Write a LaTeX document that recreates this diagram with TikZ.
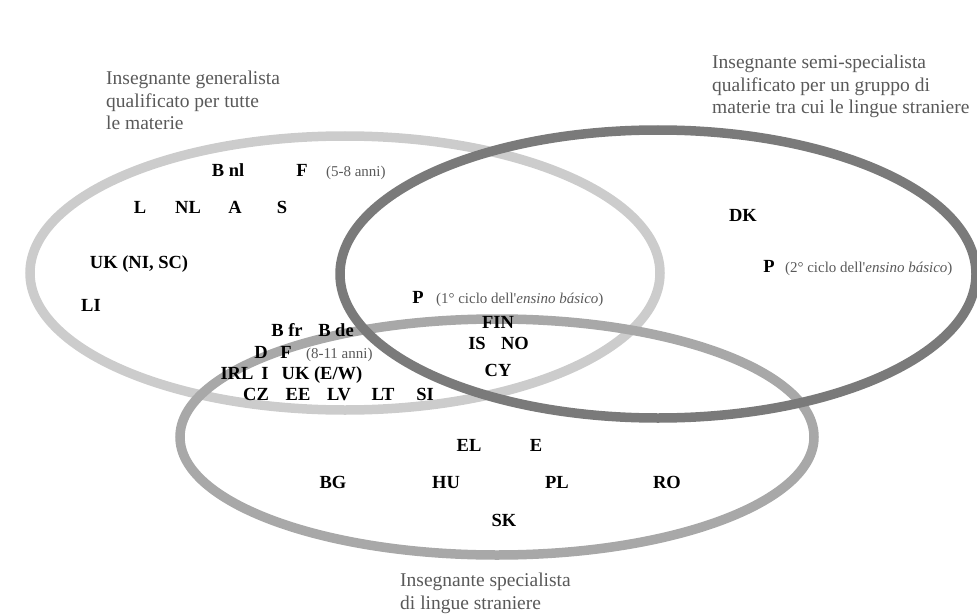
\documentclass[tikz,border=0pt]{standalone}
\usepackage{fontspec}
\setmainfont{Liberation Serif}
\usepackage{tikz}
\usetikzlibrary{shapes.geometric, positioning}
\definecolor{lightring}{gray}{0.80}
\definecolor{midring}{gray}{0.66}
\definecolor{darkring}{gray}{0.48}
\definecolor{labelgray}{gray}{0.35}
\tikzset{ring/.style={ellipse, draw, line width=9.5pt, inner sep=0pt}}
\tikzset{code/.style={font=\fontsize{18.5}{20}\selectfont\bfseries, inner sep=0pt, text height=12.5pt, text depth=0.5pt}}
\tikzset{note/.style={font=\fontsize{15}{17}\selectfont, text=labelgray, inner sep=0pt, anchor=base west}}
\tikzset{title/.style={font=\fontsize{19.5}{22.5}\selectfont, text=labelgray, align=left, inner sep=0pt, anchor=north west}}

\begin{document}
\begin{tikzpicture}[x=1pt, y=-1pt]
		\useasboundingbox (0,0) rectangle (977,615);
		\node[ring, draw=lightring, minimum width=630pt, minimum height=274pt] (gen) at (345,273) {};
		\node[ring, draw=midring, minimum width=634pt, minimum height=236pt] (spec) at (497,437) {};
		\node[ring, draw=darkring, minimum width=636pt, minimum height=288pt] (semi) at (658,274) {};

		\node[title] (tgen) at (106,71) {Insegnante generalista\\qualificato per tutte\\le materie};
		\node[title] (tsemi) at (712,55) {Insegnante semi-specialista\\qualificato per un gruppo di\\materie tra cui le lingue straniere};
		\node[title] (tspec) at (400,573) {Insegnante specialista\\di lingue straniere};

		\begin{scope}[every node/.append style={code}]
			\node (Bnl) at (228,170) {B nl};
			\node (F1) at (302,170) {F};
			\node (L) at (140,207) {L};
			\node (NL) at (188,207) {NL};
			\node (A) at (235,207) {A};
			\node (S) at (282,207) {S};
			\node (UKni) at (139,262) {UK (NI, SC)};
			\node (LI) at (91,305) {LI};
			\node (DK) at (743,215) {DK};
			\node (P2) at (769,266) {P};
			\node (P1) at (418,297) {P};
			\node (FIN) at (498,322) {FIN};
			\node (IS) at (477,343) {IS};
			\node (NO) at (515,343) {NO};
			\node (CY) at (498,370) {CY};
			\node (Bfr) at (287,330) {B fr};
			\node (Bde) at (336,330) {B de};
			\node (D) at (261,352) {D};
			\node (F2) at (286,352) {F};
			\node (IRL) at (237,373) {IRL};
			\node (I) at (265,373) {I};
			\node (UKew) at (322,373) {UK (E/W)};
			\node (CZ) at (256,394) {CZ};
			\node (EE) at (298,394) {EE};
			\node (LV) at (339,394) {LV};
			\node (LT) at (383,394) {LT};
			\node (SI) at (425,394) {SI};
			\node (EL) at (469,445) {EL};
			\node (E) at (536,445) {E};
			\node (BG) at (333,482) {BG};
			\node (HU) at (446,482) {HU};
			\node (PL) at (557,482) {PL};
			\node (RO) at (667,482) {RO};
			\node (SK) at (504,520) {SK};
		\end{scope}

		\node[note] (n58) at ([xshift=18pt]F1.base east) {(5-8 anni)};
		\node[note] (n811) at ([xshift=14pt]F2.base east) {(8-11 anni)};
		\node[note] (nP1) at ([xshift=12pt]P1.base east) {(1° ciclo dell\textquotesingle\textit{ensino básico})};
		\node[note] (nP2) at ([xshift=10pt]P2.base east) {(2° ciclo dell\textquotesingle\textit{ensino básico})};
	\end{tikzpicture}
\end{document}
